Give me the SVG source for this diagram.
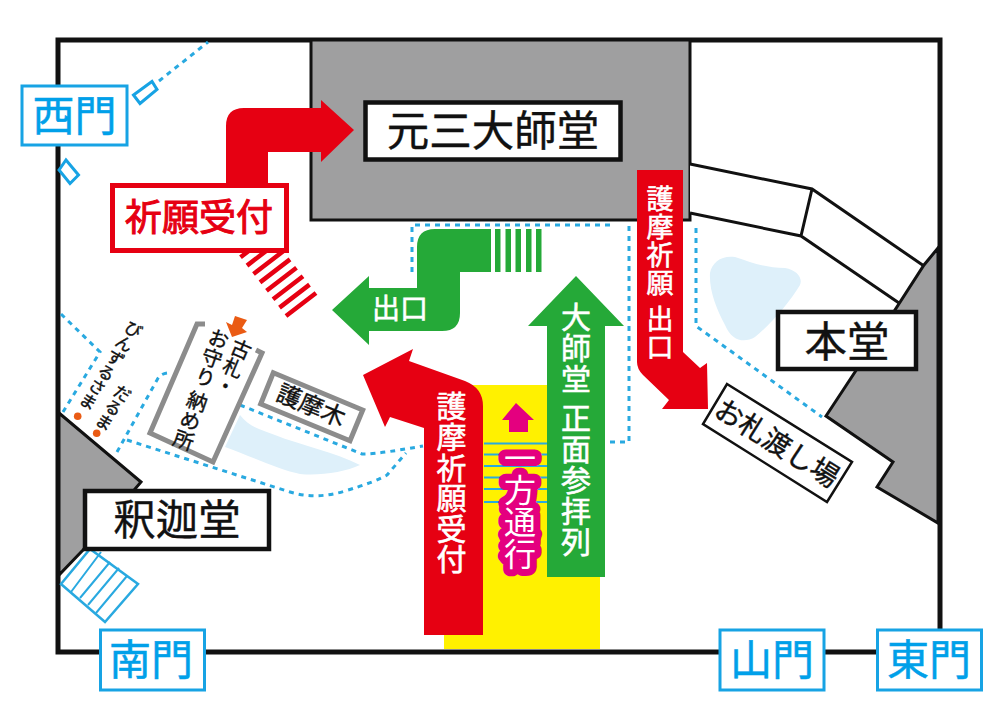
<svg xmlns="http://www.w3.org/2000/svg" width="1000" height="716" viewBox="0 0 1000 716">
<style>
text{font-family:"Noto Sans CJK JP","Noto Sans",sans-serif;text-anchor:middle}
.v{writing-mode:vertical-rl;text-anchor:start}
.w{fill:#fff;stroke:#fff;stroke-width:.6}
.k{fill:#111;stroke:#111;stroke-width:.4}
.bk{fill:#fff;stroke:#111;stroke-width:4.500}
.bl{fill:#fff;stroke:#17a3e4;stroke-width:3}
.blt{fill:#00a0e9;stroke:#00a0e9;stroke-width:.5;font-size:42px}
.gr{fill:#9f9fa0;stroke:#111;stroke-width:3}
.dot{fill:none;stroke:#29a9e0;stroke-width:3;stroke-dasharray:5 5}
.pond{fill:#def0fa}
.line{fill:none;stroke:#111;stroke-width:3}
</style>
<rect width="1000" height="716" fill="#fff"/>
<g id="grounds">
<rect x="58" y="40" width="882" height="612" fill="#fff" stroke="#111" stroke-width="5"/>
</g>
<g id="ponds">
<path class="pond" d="M710 273C712 262 722 255 735 257C750 262 765 268 785 268C797 270 803 278 800 285C790 302 770 325 755 337C745 343 732 342 725 325C716 308 709 290 710 273Z"/>
<path class="pond" d="M240 415C250 428 262 430 275 435C300 445 335 452 360 465C345 472 320 476 300 474C280 470 250 456 225 447Z"/>
</g>
<g id="connectors">
<path class="dot" d="M159 81L208 42"/>
<path class="dot" d="M61 314L100 352L63 412"/>
<path class="dot" d="M167 373Q160 374 157 380L117 452"/>
<path class="dot" d="M127 440L290 492Q316 500 345 491Q375 482 387 475L406 453"/>
<path class="dot" d="M240 405L362 454Q372 455 423 446"/>
<path class="dot" d="M412 272V225H610"/>
<path class="dot" d="M629 226V442H605"/>
<path class="dot" d="M696 228V326L822 417"/>
</g>
<g id="yellow-lane">
<rect x="444" y="385" width="156" height="264" fill="#fff100"/>
<path d="M484 443.500H547M484 454.500H547M484 466H547M484 477.500H547M484 489H547M484 502H547" fill="none" stroke="#29a9e0" stroke-width="2"/>
<path d="M516 403L534 420H528V432H509V420H502Z" fill="#e4007f"/>
</g>
<g id="daishido-hall">
<rect x="311" y="40" width="379" height="180" class="gr"/>
</g>
<g id="corridor">
<path fill="#fff" d="M690 164L812 189L924 266L899 303L801 236L690 213Z"/>
<path class="line" d="M690 164L812 189L924 266M690 213L801 236L899 303M812 189L801 236"/>
</g>
<g id="hondo-building">
<path class="gr" d="M938 248L924 265L855 372L826 416L893 462L877 487L938 523Z"/>
</g>
<g id="shaka-stair">
<path d="M61 584L90 549L138 584L105 622Z" fill="#fff" stroke="#29a9e0" stroke-width="2.500"/>
<path d="M71 592L101 552M80 598L110 562M88 605L119 568M96 613L127 576" fill="none" stroke="#29a9e0" stroke-width="2"/>
</g>
<g id="shaka-building">
<path class="gr" d="M59 413L141 482L83 550L59 575Z"/>
</g>
<g id="red-stripes">
<path d="M286 316L316 293M279.500 307.600L309.500 284.600M273 299.200L303 276.200M266.500 290.800L296.500 267.800M260 282.400L290 259.400M253.500 274L283.500 251M247 265.600L277 242.600M240.500 257.200L270.500 234.200" fill="none" stroke="#e60012" stroke-width="4.500"/>
</g>
<g id="green-stripes" fill="#25a938">
<rect x="495" y="229" width="5.500" height="43"/><rect x="505.500" y="229" width="5.500" height="43"/><rect x="515.500" y="229" width="5.500" height="43"/><rect x="526" y="229" width="5.500" height="43"/><rect x="536" y="229" width="5.500" height="43"/>
</g>
<g id="arrow-gantsan" fill="#e60012">
<path d="M226 190V126Q226 108 244 108H321V100L354 130L321 162V152H268V190Z"/>
</g>
<g id="node-kigan">
<rect x="112.500" y="185.500" width="174" height="65" fill="#fff" stroke="#e60012" stroke-width="5"/>
<text x="199" y="231" font-size="37" fill="#e60012" stroke="#e60012" stroke-width="1">祈願受付</text>
</g>
<g id="arrow-exit">
<path fill="#25a938" d="M332 310L369 276V288H417V247Q417 229 435 229H491V272H460V313Q460 331 442 331H369V345Z"/>
<text x="400" y="319" font-size="28" class="w">出口</text>
</g>
<g id="arrow-main">
<path fill="#25a938" d="M576 276L624 326H605V577H547V326H528Z"/>
<text x="576" y="302" font-size="30" class="v w" letter-spacing="1">大師堂 正面参拝列</text>
</g>
<g id="arrow-goma">
<path fill="#e60012" d="M363 375L413 349L409 361L465 381Q483 388 483 406V635H424V428L390 417L385 427Z"/>
<text x="451.500" y="391" font-size="30" class="v w" letter-spacing="0.600">護摩祈願受付</text>
</g>
<g id="oneway">
<text x="520" y="442" font-size="32" class="v" fill="#fff" stroke="#e4007f" stroke-width="14" stroke-linejoin="round" paint-order="stroke">一方通行</text>
</g>
<g id="arrow-goma-exit">
<path fill="#e60012" d="M637 170H683V352L700 368L707 363L708 409H662L669 400L643 375Q637 369 637 362Z"/>
<text x="660" y="185" font-size="27" class="v w" letter-spacing="1.200">護摩祈願 出口</text>
</g>
<g id="node-main-hall">
<rect x="365.500" y="102.500" width="255" height="57" class="bk"/>
<text x="493" y="146" font-size="42.500" class="k">元三大師堂</text>
</g>
<g id="node-hondo">
<rect x="778" y="312" width="138" height="57" class="bk"/>
<text x="847" y="357" font-size="42.500" class="k">本堂</text>
</g>
<g id="node-shaka">
<rect x="85" y="491" width="184" height="58" class="bk"/>
<text x="177" y="535" font-size="42.500" class="k">釈迦堂</text>
</g>
<g id="node-ofuda">
<path d="M727 384L852 462L827 502L703 424Z" fill="#fff" stroke="#111" stroke-width="2.500"/>
<text transform="translate(777 443) rotate(32)" y="10" font-size="28" class="k">お札渡し場</text>
</g>
<g id="node-gomagi">
<path d="M273.300 372.700L362.700 410L350 440.700L260.700 404Z" fill="#fff" stroke="#8c8c8c" stroke-width="5"/>
<text transform="translate(311 406) rotate(22.600)" y="8" font-size="24" class="k">護摩木</text>
</g>
<g id="node-osame">
<path d="M205 324L197 324L150 433L213 462L262 353L256 350" fill="#fff" stroke="#8c8c8c" stroke-width="5"/>
<text transform="translate(245 340) rotate(23)" font-size="20" class="v k">古札・</text>
<text transform="translate(222 329) rotate(19)" font-size="20.500" class="v k">お守り 納め所</text>
<path d="M226 322L232 325L235 316L247 320L242 328L247 332L232 337Z" fill="#ea5b14"/>
</g>
<g id="node-binzuru">
<text transform="translate(138 322) rotate(32)" font-size="17" class="v k">びんずるさま</text>
<circle cx="77.700" cy="416.300" r="3.800" fill="#ea5b14"/>
</g>
<g id="node-daruma">
<text transform="translate(127 386) rotate(32)" font-size="17" class="v k">だるま</text>
<circle cx="96.700" cy="433.300" r="3.800" fill="#ea5b14"/>
</g>
<g id="gate-west">
<path class="bl" d="M133.500 95L152 81.500L157 89.500L140 103.500Z"/>
<path class="bl" d="M59 170L66 160L78.500 175L70 183.500Z"/>
<rect x="22" y="86" width="105" height="59" class="bl"/>
<text x="74.500" y="131" class="blt">西門</text>
</g>
<g id="gate-south">
<rect x="100.500" y="630" width="104" height="60" class="bl"/>
<text x="151" y="674.500" class="blt">南門</text>
</g>
<g id="gate-sanmon">
<rect x="720" y="630" width="104" height="60" class="bl"/>
<text x="772" y="674.500" class="blt">山門</text>
</g>
<g id="gate-east">
<rect x="877.500" y="630" width="104" height="60" class="bl"/>
<text x="929" y="674.500" class="blt">東門</text>
</g>
</svg>
